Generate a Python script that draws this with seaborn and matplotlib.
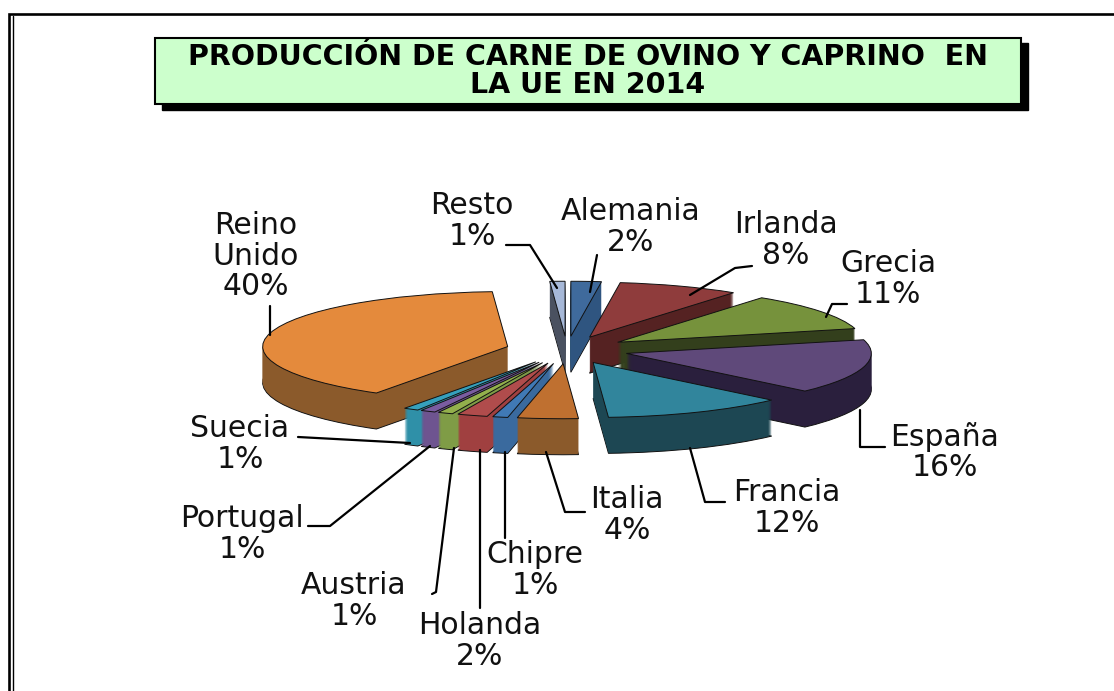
import matplotlib
matplotlib.use("Agg")
import matplotlib.pyplot as plt
from matplotlib.patches import Rectangle
import seaborn as sns

sns.set_theme(style="white")
plt.rcParams['font.family'] = ['DejaVu Sans']

countries = ["Alemania", "Irlanda", "Grecia", "España", "Francia", "Italia", "Chipre",
             "Holanda", "Austria", "Portugal", "Suecia", "Reino\nUnido", "Resto"]
shares = [2, 8, 11, 16, 12, 4, 1, 2, 1, 1, 1, 40, 1]
top_colors = ["#3f6a9c", "#8f3c3c", "#76923c", "#5f497a", "#31859c", "#bf7030", "#4079b5",
              "#b04c4c", "#93b04c", "#7a5ca0", "#36a0bc", "#e48a3c", "#a6b8d8"]
side_colors = ["#2f5580", "#552222", "#333f1c", "#2a1f3d", "#1d4753", "#8b5a2b", "#3a6a9e",
               "#a04040", "#7f9c46", "#6e5490", "#2f90a8", "#8b5a2b", "#4a5160"]
title_text = "PRODUCCIÓN DE CARNE DE OVINO Y CAPRINO  EN\nLA UE EN 2014"

W, H = 1114, 691
fig = plt.figure(figsize=(W / 100, H / 100), dpi=100, facecolor="white")

# page layer in pixel coordinates
pg = fig.add_axes([0, 0, 1, 1], zorder=0)
pg.set_xlim(0, W); pg.set_ylim(H, 0); pg.axis("off")
pg.plot([9, 9, 1114], [691, 14, 14], color="black", lw=1.9, solid_joinstyle="miter")
pg.plot([12.5, 12.5], [691, 16], color="black", lw=1.0)
pg.add_patch(Rectangle((162, 43), 866, 67, color="black", zorder=1))
pg.add_patch(Rectangle((155, 38), 866, 66, facecolor="#ccffcc", edgecolor="black", lw=1.5, zorder=2))
pg.text(588, 71, title_text, ha="center", va="center", fontsize=20.5, fontweight="bold",
        color="black", linespacing=1.03, zorder=3)

# pie layer
RX, RY, CX, CY, DEPTH = 245, 55, 567, 350, 36
ax = fig.add_axes([0, 0, 1, 1], zorder=1)
ax.patch.set_alpha(0)
paint = [2, 3, 4, 5, 6, 13, 12, 11, 10, 9, 8, 7, 1]  # back-to-front rank of each slice
layers = 37
for k in range(layers):
    frac = k / (layers - 1)
    is_top = k == layers - 1
    wedges, _ = ax.pie(shares, explode=[0.25] * len(shares),
                       colors=top_colors if is_top else side_colors,
                       startangle=90, counterclock=False,
                       center=(0, -(1 - frac) * DEPTH / RY),
                       wedgeprops=dict(lw=0.7 if (is_top or k == 0) else 0,
                                       edgecolor="#111111" if (is_top or k == 0) else "none"))
    for w, rank in zip(wedges, paint):
        w.set_zorder(rank * 100 + k)
ax.set_aspect("auto")
ax.set_xlim(-CX / RX, (W - CX) / RX)
ax.set_ylim(-(H - CY) / RY, CY / RY)
ax.axis("off")

# labels
over = fig.add_axes([0, 0, 1, 1], zorder=2)
over.set_xlim(0, W); over.set_ylim(H, 0); over.axis("off")
spots = [(631, 227), (786, 240), (888, 279), (945, 452), (787, 508), (627, 515), (535, 570),
         (480, 641), (354, 601), (242, 534), (240, 444), (256, 256), (472, 221)]
leaders = [[(597, 255), (590, 292)], [(752, 266), (735, 268), (690, 295)],
           [(847, 304), (832, 304), (826, 317)],
           [(885, 447), (860, 447), (860, 410)], [(725, 502), (705, 502), (690, 448)],
           [(585, 512), (565, 512), (546, 452)], [(505, 538), (505, 452)],
           [(480, 608), (480, 450)], [(432, 594), (436, 592), (454, 448)],
           [(308, 526), (330, 526), (430, 446)], [(298, 437), (410, 443)],
           [(270, 335), (270, 306)], [(506, 245), (530, 245), (557, 288)]]
for name, v, s, l in zip(countries, shares, spots, leaders):
    over.text(s[0], s[1], f"{name}\n{v}%", ha="center", va="center", fontsize=21.5,
              color="#111111", linespacing=1.07)
    over.plot(*zip(*l), color="black", lw=1.6)

fig.savefig("out.png", dpi=100)
